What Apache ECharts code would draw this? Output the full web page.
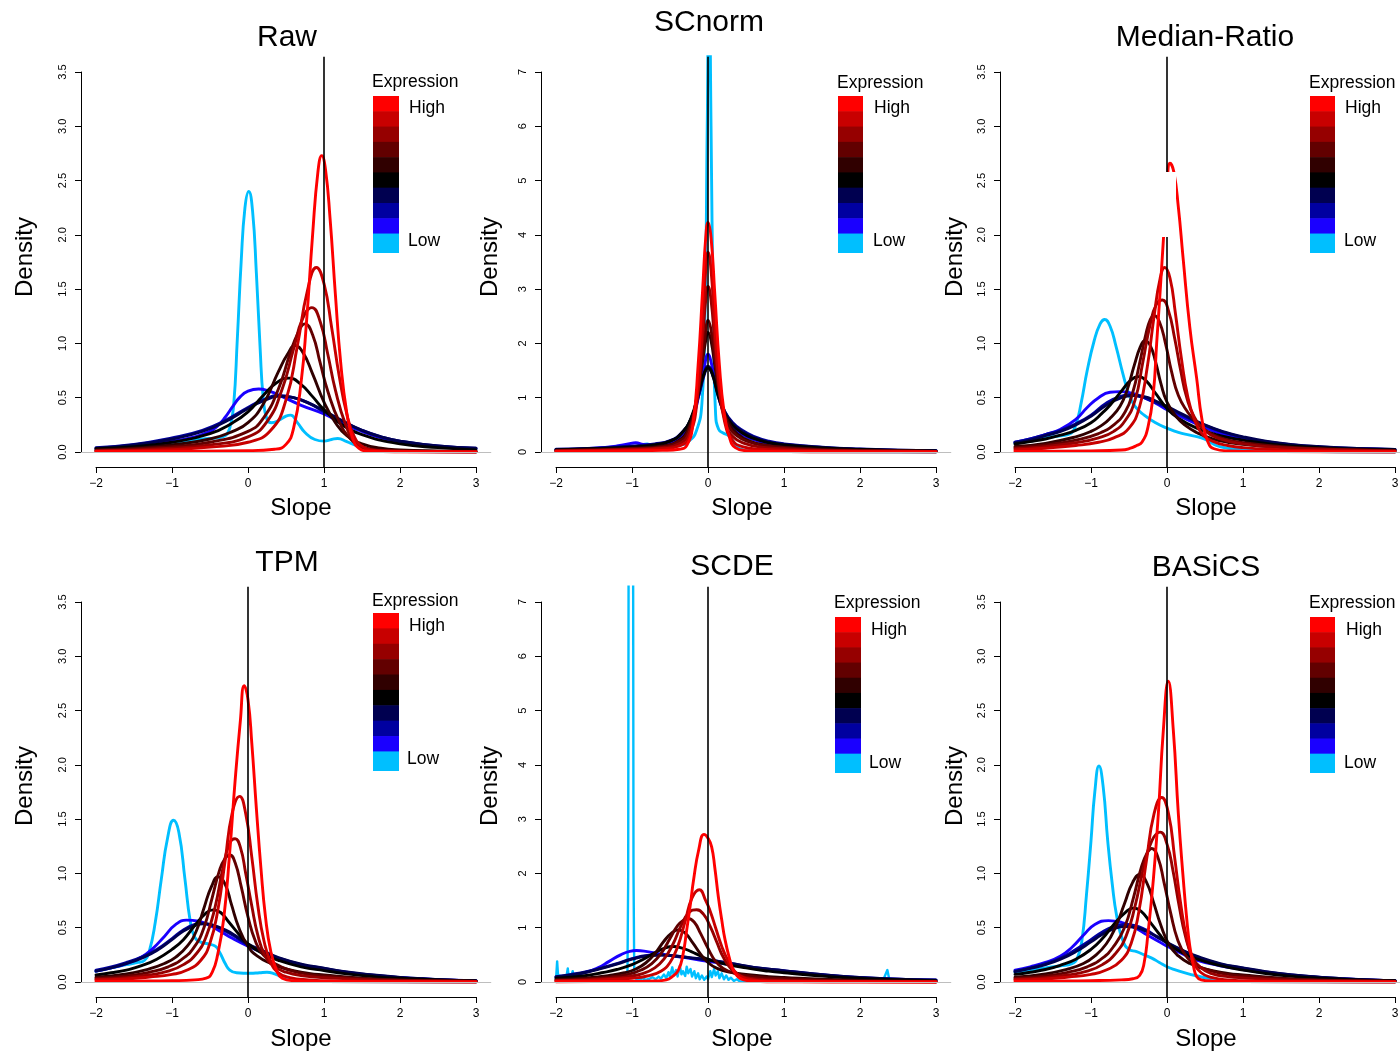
<!DOCTYPE html>
<html><head><meta charset="utf-8">
<script src="https://cdn.jsdelivr.net/npm/echarts@6/dist/echarts.min.js"></script>
<style>html,body{margin:0;padding:0;background:#fff}#c{width:1400px;height:1056px}</style>
</head><body><div id="c"></div>
<script>
// ---------- DATA ----------
// expression levels, low -> high
const levelNames = ['Low','2','3','4','5','6','7','8','9','High'];
const levelColors = ['#00BFFF','#1A00FF','#0000A0','#000050','#000000','#300000','#620000','#960000','#C80000','#FF0000'];
const xTicks = [-2,-1,0,1,2,3];
const yTicksHalf = [0,0.5,1,1.5,2,2.5,3,3.5];
const yTicksInt = [0,1,2,3,4,5,6,7];
const panelTitles = ['Raw','SCnorm','Median-Ratio','TPM','SCDE','BASiCS'];
const refLines = [1,0,0,0,0,0];

const rawCurves = [
 [[-2,0.02],[-1.5,0.045],[-1,0.085],[-0.6,0.12],[-0.4,0.13],[-0.3,0.15],[-0.24,0.22],[-0.19,0.42],[-0.14,1.05],[-0.09,1.75],[-0.04,2.25],[0.01,2.40],[0.06,2.22],[0.11,1.65],[0.16,0.95],[0.2,0.5],[0.25,0.3],[0.31,0.27],[0.4,0.29],[0.5,0.33],[0.56,0.34],[0.65,0.27],[0.75,0.18],[0.88,0.115],[1.0,0.10],[1.1,0.115],[1.18,0.125],[1.3,0.095],[1.42,0.06],[1.56,0.03],[1.8,0.01],[2.2,0.004],[3,0.0]],
 [[-2,0.03],[-1.5,0.06],[-1,0.1],[-0.7,0.14],[-0.5,0.19],[-0.4,0.24],[-0.3,0.32],[-0.2,0.42],[-0.1,0.51],[0.0,0.56],[0.14,0.58],[0.28,0.56],[0.45,0.51],[0.7,0.43],[1.0,0.35],[1.25,0.26],[1.5,0.19],[1.75,0.13],[2.0,0.09],[2.5,0.05],[3,0.03]],
 [[-2,0.04],[-1.5,0.07],[-1,0.13],[-0.6,0.2],[-0.3,0.29],[0.0,0.41],[0.2,0.48],[0.4,0.52],[0.6,0.5],[0.8,0.45],[1.0,0.37],[1.25,0.28],[1.5,0.2],[1.75,0.14],[2.0,0.1],[2.5,0.055],[3,0.035]],
 [[-2,0.035],[-1.5,0.065],[-1,0.12],[-0.6,0.19],[-0.3,0.28],[0.0,0.4],[0.2,0.47],[0.42,0.515],[0.6,0.5],[0.8,0.45],[1.0,0.38],[1.25,0.285],[1.5,0.2],[1.75,0.14],[2.0,0.1],[2.5,0.055],[3,0.035]],
 [[-2,0.03],[-1.5,0.05],[-1,0.09],[-0.5,0.17],[-0.2,0.27],[0.0,0.37],[0.2,0.52],[0.38,0.64],[0.54,0.68],[0.7,0.62],[0.85,0.51],[1.0,0.39],[1.2,0.27],[1.5,0.16],[2.0,0.075],[2.5,0.04],[3,0.02]],
 [[-2,0.02],[-1.5,0.035],[-1,0.065],[-0.5,0.12],[-0.2,0.19],[0.0,0.27],[0.2,0.44],[0.4,0.74],[0.52,0.9],[0.62,0.98],[0.72,0.92],[0.85,0.72],[1.0,0.46],[1.15,0.27],[1.3,0.15],[1.5,0.075],[1.75,0.035],[2,0.02],[2.5,0.01],[3,0.005]],
 [[-2,0.015],[-1,0.05],[-0.5,0.09],[0.0,0.19],[0.2,0.31],[0.4,0.58],[0.55,0.9],[0.66,1.1],[0.75,1.18],[0.85,1.08],[0.95,0.82],[1.05,0.56],[1.2,0.28],[1.35,0.12],[1.5,0.05],[1.7,0.02],[2,0.01],[3,0.003]],
 [[-2,0.01],[-1,0.035],[-0.5,0.065],[0.0,0.14],[0.25,0.28],[0.45,0.58],[0.6,0.95],[0.72,1.23],[0.84,1.33],[0.95,1.2],[1.05,0.9],[1.15,0.57],[1.28,0.26],[1.4,0.1],[1.55,0.03],[1.8,0.01],[3,0.002]],
 [[-2,0.008],[-1,0.022],[-0.5,0.045],[0.0,0.09],[0.3,0.2],[0.5,0.48],[0.65,0.98],[0.78,1.48],[0.9,1.70],[1.0,1.55],[1.1,1.15],[1.2,0.7],[1.3,0.35],[1.4,0.14],[1.52,0.045],[1.7,0.012],[2,0.004],[3,0.001]],
 [[-2,0.004],[-1,0.007],[0.0,0.012],[0.35,0.025],[0.5,0.07],[0.6,0.22],[0.7,0.65],[0.77,1.2],[0.85,2.0],[0.92,2.58],[0.97,2.73],[1.02,2.6],[1.08,2.15],[1.15,1.45],[1.22,0.82],[1.3,0.36],[1.38,0.12],[1.46,0.035],[1.6,0.008],[2,0.002],[3,0.0]]
];

const scnormCurves = [
 [[-2,0.02],[-1.5,0.04],[-1,0.08],[-0.8,0.15],[-0.7,0.1],[-0.4,0.12],[-0.25,0.2],[-0.15,0.4],[-0.08,0.9],[-0.04,2.5],[-0.01,6],[0.015,9],[0.04,6],[0.07,2.5],[0.1,0.7],[0.14,0.42],[0.2,0.35],[0.27,0.3],[0.33,0.2],[0.38,0.1],[0.47,0.04],[0.7,0.02],[1,0.01],[3,0]],
 [[-2,0.04],[-1.5,0.07],[-1.2,0.11],[-1.05,0.15],[-0.95,0.17],[-0.85,0.14],[-0.7,0.13],[-0.5,0.17],[-0.35,0.28],[-0.22,0.55],[-0.12,1.05],[-0.05,1.55],[0.0,1.8],[0.05,1.6],[0.12,1.12],[0.2,0.75],[0.3,0.5],[0.45,0.32],[0.6,0.23],[0.8,0.16],[1.0,0.12],[1.5,0.07],[2,0.045],[2.5,0.03],[3,0.02]],
 [[-2,0.05],[-1.5,0.07],[-1,0.11],[-0.7,0.15],[-0.5,0.21],[-0.35,0.35],[-0.22,0.62],[-0.12,1.05],[-0.05,1.42],[0.0,1.55],[0.06,1.42],[0.13,1.08],[0.22,0.75],[0.32,0.55],[0.45,0.4],[0.6,0.29],[0.8,0.2],[1.0,0.15],[1.5,0.09],[2,0.055],[2.5,0.035],[3,0.025]],
 [[-2,0.045],[-1.5,0.065],[-1,0.1],[-0.7,0.14],[-0.5,0.2],[-0.35,0.34],[-0.22,0.62],[-0.12,1.08],[-0.05,1.45],[0.0,1.58],[0.06,1.45],[0.13,1.1],[0.22,0.74],[0.32,0.53],[0.45,0.38],[0.6,0.27],[0.8,0.18],[1.0,0.14],[1.5,0.085],[2,0.05],[2.5,0.033],[3,0.022]],
 [[-2,0.04],[-1.5,0.06],[-1,0.09],[-0.7,0.13],[-0.5,0.2],[-0.35,0.34],[-0.22,0.64],[-0.12,1.12],[-0.05,1.45],[0.0,1.55],[0.06,1.42],[0.13,1.05],[0.22,0.7],[0.32,0.5],[0.45,0.35],[0.6,0.25],[0.8,0.17],[1.0,0.13],[1.5,0.075],[2,0.045],[2.5,0.03],[3,0.02]],
 [[-2,0.03],[-1.5,0.045],[-1,0.07],[-0.6,0.11],[-0.4,0.2],[-0.27,0.4],[-0.16,0.9],[-0.08,1.6],[-0.03,2.05],[0.0,2.2],[0.04,2.05],[0.1,1.5],[0.18,0.9],[0.28,0.52],[0.4,0.32],[0.55,0.2],[0.75,0.13],[1.0,0.09],[1.5,0.05],[2,0.03],[3,0.012]],
 [[-2,0.025],[-1.5,0.04],[-1,0.06],[-0.6,0.1],[-0.4,0.18],[-0.26,0.38],[-0.15,0.95],[-0.07,1.75],[-0.03,2.25],[0.0,2.43],[0.04,2.25],[0.1,1.6],[0.17,0.95],[0.26,0.52],[0.38,0.3],[0.55,0.18],[0.75,0.12],[1.0,0.08],[1.5,0.04],[2,0.025],[3,0.01]],
 [[-2,0.02],[-1.5,0.03],[-1,0.05],[-0.6,0.08],[-0.38,0.15],[-0.25,0.35],[-0.15,1.0],[-0.07,2.1],[-0.03,2.8],[0.0,3.05],[0.04,2.8],[0.09,2.0],[0.15,1.15],[0.23,0.55],[0.33,0.28],[0.5,0.15],[0.7,0.09],[1.0,0.06],[1.5,0.03],[2,0.02],[3,0.008]],
 [[-2,0.015],[-1.5,0.025],[-1,0.04],[-0.6,0.06],[-0.36,0.12],[-0.24,0.3],[-0.14,1.0],[-0.07,2.4],[-0.03,3.35],[0.0,3.68],[0.04,3.35],[0.09,2.3],[0.15,1.2],[0.22,0.55],[0.32,0.22],[0.45,0.1],[0.7,0.05],[1.0,0.035],[1.5,0.02],[2,0.012],[3,0.005]],
 [[-2,0.01],[-1.5,0.015],[-1,0.02],[-0.6,0.03],[-0.38,0.05],[-0.28,0.12],[-0.2,0.5],[-0.13,1.6],[-0.07,3.0],[-0.03,3.95],[0.0,4.23],[0.04,3.95],[0.09,2.9],[0.15,1.6],[0.21,0.75],[0.28,0.28],[0.36,0.08],[0.5,0.025],[0.8,0.012],[1.5,0.005],[3,0.002]]
];

const medianRatioCurves = [
 [[-2,0.08],[-1.8,0.1],[-1.6,0.13],[-1.4,0.15],[-1.27,0.17],[-1.2,0.25],[-1.13,0.45],[-1.05,0.75],[-0.96,1.02],[-0.88,1.18],[-0.82,1.22],[-0.75,1.16],[-0.67,0.97],[-0.58,0.72],[-0.5,0.53],[-0.42,0.42],[-0.3,0.34],[-0.15,0.27],[0.0,0.22],[0.15,0.18],[0.3,0.155],[0.45,0.13],[0.55,0.1],[0.65,0.06],[0.8,0.035],[1.0,0.02],[1.5,0.008],[3,0.0]],
 [[-2,0.09],[-1.8,0.12],[-1.6,0.16],[-1.4,0.21],[-1.2,0.3],[-1.05,0.41],[-0.9,0.5],[-0.75,0.55],[-0.62,0.556],[-0.45,0.54],[-0.3,0.5],[-0.15,0.45],[0.0,0.39],[0.2,0.32],[0.48,0.23],[0.75,0.16],[1.0,0.12],[1.3,0.085],[1.66,0.06],[2.0,0.045],[2.5,0.03],[3,0.022]],
 [[-2,0.09],[-1.8,0.12],[-1.6,0.16],[-1.4,0.2],[-1.2,0.26],[-1.0,0.34],[-0.8,0.45],[-0.6,0.515],[-0.5,0.525],[-0.35,0.51],[-0.2,0.47],[0.0,0.41],[0.2,0.34],[0.48,0.25],[0.75,0.18],[1.0,0.135],[1.3,0.095],[1.66,0.065],[2.0,0.048],[2.5,0.032],[3,0.024]],
 [[-2,0.085],[-1.8,0.11],[-1.6,0.15],[-1.4,0.19],[-1.2,0.25],[-1.0,0.33],[-0.8,0.43],[-0.6,0.5],[-0.45,0.52],[-0.3,0.51],[-0.15,0.47],[0.0,0.42],[0.2,0.35],[0.48,0.255],[0.75,0.185],[1.0,0.14],[1.3,0.1],[1.66,0.068],[2.0,0.05],[2.5,0.033],[3,0.024]],
 [[-2,0.074],[-1.8,0.095],[-1.6,0.12],[-1.4,0.155],[-1.2,0.2],[-1.0,0.27],[-0.85,0.36],[-0.75,0.43],[-0.6,0.56],[-0.48,0.66],[-0.38,0.694],[-0.28,0.66],[-0.14,0.53],[0.0,0.4],[0.15,0.31],[0.39,0.22],[0.7,0.15],[1.0,0.11],[1.4,0.07],[2.0,0.04],[2.5,0.026],[3,0.018]],
 [[-2,0.05],[-1.6,0.08],[-1.2,0.14],[-1.0,0.19],[-0.85,0.25],[-0.75,0.31],[-0.62,0.42],[-0.53,0.56],[-0.43,0.8],[-0.35,0.97],[-0.29,1.026],[-0.22,0.98],[-0.15,0.83],[-0.08,0.63],[0.0,0.46],[0.13,0.32],[0.25,0.24],[0.39,0.18],[0.6,0.12],[0.8,0.09],[1.0,0.07],[1.44,0.045],[2.0,0.028],[2.5,0.018],[3,0.012]],
 [[-2,0.04],[-1.6,0.065],[-1.2,0.11],[-0.9,0.17],[-0.7,0.25],[-0.55,0.37],[-0.45,0.55],[-0.36,0.82],[-0.28,1.08],[-0.22,1.22],[-0.17,1.256],[-0.1,1.2],[-0.02,1.0],[0.06,0.74],[0.15,0.52],[0.26,0.38],[0.4,0.26],[0.55,0.18],[0.75,0.12],[1.0,0.085],[1.5,0.05],[2,0.03],[3,0.012]],
 [[-2,0.03],[-1.6,0.05],[-1.2,0.085],[-0.9,0.13],[-0.7,0.19],[-0.55,0.29],[-0.42,0.48],[-0.32,0.82],[-0.22,1.18],[-0.14,1.36],[-0.06,1.40],[0.02,1.3],[0.1,1.05],[0.18,0.75],[0.26,0.5],[0.36,0.32],[0.5,0.2],[0.7,0.12],[1.0,0.075],[1.5,0.04],[2,0.025],[3,0.01]],
 [[-2,0.02],[-1.6,0.035],[-1.2,0.06],[-0.9,0.09],[-0.7,0.13],[-0.5,0.22],[-0.36,0.42],[-0.26,0.78],[-0.17,1.25],[-0.09,1.6],[-0.03,1.70],[0.04,1.6],[0.11,1.28],[0.19,0.86],[0.27,0.52],[0.36,0.3],[0.46,0.17],[0.6,0.1],[0.8,0.06],[1.0,0.04],[1.5,0.02],[2,0.012],[3,0.005]],
 [[-2,0.005],[-1,0.01],[-0.6,0.018],[-0.48,0.035],[-0.4,0.06],[-0.33,0.09],[-0.25,0.23],[-0.18,0.54],[-0.136,1.0],[-0.092,1.46],[-0.048,1.95],[0.0,2.45],[0.04,2.66],[0.09,2.58],[0.15,2.25],[0.21,1.8],[0.3,1.15],[0.39,0.68],[0.46,0.3],[0.54,0.09],[0.62,0.03],[0.8,0.01],[1.5,0.003],[3,0.0]]
];

const tpmCurves = [
 [[-2,0.1],[-1.8,0.13],[-1.6,0.16],[-1.45,0.18],[-1.36,0.2],[-1.3,0.28],[-1.22,0.55],[-1.14,0.95],[-1.06,1.32],[-0.98,1.49],[-0.91,1.38],[-0.83,0.95],[-0.76,0.56],[-0.7,0.41],[-0.63,0.37],[-0.52,0.35],[-0.43,0.33],[-0.37,0.27],[-0.3,0.17],[-0.24,0.11],[-0.15,0.085],[0.03,0.08],[0.15,0.085],[0.25,0.09],[0.35,0.075],[0.45,0.045],[0.55,0.025],[0.7,0.012],[1.0,0.005],[3,0.0]],
 [[-2,0.1],[-1.8,0.13],[-1.6,0.17],[-1.4,0.23],[-1.25,0.31],[-1.1,0.42],[-0.95,0.53],[-0.81,0.57],[-0.65,0.56],[-0.5,0.52],[-0.35,0.46],[-0.2,0.4],[0.0,0.33],[0.2,0.27],[0.4,0.21],[0.7,0.155],[1.0,0.115],[1.3,0.085],[1.65,0.058],[2.0,0.04],[2.3,0.028],[2.7,0.016],[3,0.01]],
 [[-2,0.11],[-1.8,0.14],[-1.6,0.18],[-1.4,0.23],[-1.2,0.3],[-1.0,0.4],[-0.85,0.48],[-0.7,0.53],[-0.6,0.54],[-0.45,0.52],[-0.3,0.47],[-0.15,0.41],[0.0,0.34],[0.2,0.28],[0.4,0.22],[0.7,0.16],[1.0,0.125],[1.3,0.09],[1.65,0.062],[2.0,0.042],[2.3,0.03],[2.7,0.017],[3,0.011]],
 [[-2,0.1],[-1.8,0.13],[-1.6,0.17],[-1.4,0.22],[-1.2,0.29],[-1.0,0.39],[-0.85,0.47],[-0.7,0.52],[-0.58,0.535],[-0.45,0.52],[-0.3,0.48],[-0.15,0.42],[0.0,0.35],[0.2,0.285],[0.4,0.225],[0.7,0.165],[1.0,0.127],[1.3,0.092],[1.65,0.064],[2.0,0.043],[2.3,0.03],[2.7,0.017],[3,0.011]],
 [[-2,0.065],[-1.8,0.085],[-1.6,0.11],[-1.4,0.15],[-1.2,0.21],[-1.0,0.3],[-0.85,0.39],[-0.7,0.52],[-0.56,0.63],[-0.46,0.664],[-0.36,0.64],[-0.25,0.55],[-0.12,0.44],[0.0,0.35],[0.2,0.26],[0.4,0.2],[0.7,0.14],[1.0,0.105],[1.3,0.075],[1.65,0.05],[2.0,0.034],[2.5,0.02],[3,0.01]],
 [[-2,0.045],[-1.6,0.075],[-1.3,0.12],[-1.1,0.17],[-0.95,0.23],[-0.8,0.33],[-0.68,0.47],[-0.58,0.68],[-0.48,0.88],[-0.39,0.97],[-0.3,0.9],[-0.22,0.72],[-0.12,0.5],[0.0,0.33],[0.12,0.24],[0.3,0.17],[0.5,0.12],[0.8,0.08],[1.0,0.065],[1.5,0.035],[2.0,0.02],[3,0.007]],
 [[-2,0.035],[-1.6,0.055],[-1.3,0.09],[-1.05,0.14],[-0.85,0.22],[-0.7,0.33],[-0.58,0.5],[-0.47,0.78],[-0.37,1.04],[-0.3,1.14],[-0.24,1.17],[-0.17,1.1],[-0.09,0.88],[0.0,0.6],[0.1,0.37],[0.2,0.25],[0.35,0.17],[0.55,0.11],[0.8,0.07],[1.0,0.055],[1.5,0.03],[2,0.017],[3,0.006]],
 [[-2,0.025],[-1.6,0.04],[-1.3,0.065],[-1.05,0.1],[-0.85,0.16],[-0.68,0.26],[-0.55,0.42],[-0.43,0.7],[-0.33,1.05],[-0.24,1.28],[-0.17,1.32],[-0.1,1.24],[-0.03,1.0],[0.05,0.7],[0.13,0.43],[0.22,0.25],[0.33,0.15],[0.5,0.09],[0.75,0.055],[1.0,0.04],[1.5,0.022],[2,0.012],[3,0.004]],
 [[-2,0.018],[-1.6,0.028],[-1.3,0.045],[-1.0,0.07],[-0.8,0.11],[-0.62,0.2],[-0.5,0.36],[-0.4,0.65],[-0.3,1.12],[-0.21,1.55],[-0.11,1.71],[-0.03,1.55],[0.05,1.15],[0.13,0.7],[0.21,0.38],[0.3,0.18],[0.4,0.085],[0.55,0.04],[0.8,0.02],[1.2,0.01],[2,0.004],[3,0.001]],
 [[-2,0.006],[-1.5,0.008],[-1,0.012],[-0.7,0.02],[-0.55,0.035],[-0.47,0.09],[-0.4,0.25],[-0.32,0.58],[-0.24,1.2],[-0.17,1.85],[-0.1,2.41],[-0.05,2.73],[0.0,2.6],[0.05,2.2],[0.11,1.6],[0.17,1.05],[0.23,0.6],[0.3,0.28],[0.38,0.1],[0.45,0.035],[0.6,0.012],[1,0.004],[3,0.0]]
];

const scdeCurves = [
 [[-2.0,0.04],[-1.985,0.38],[-1.97,0.06],[-1.95,0.12],[-1.93,0.05],[-1.9,0.09],[-1.87,0.04],[-1.845,0.25],[-1.83,0.06],[-1.8,0.1],[-1.78,0.2],[-1.76,0.05],[-1.72,0.09],[-1.69,0.04],[-1.66,0.12],[-1.62,0.05],[-1.58,0.07],[-1.53,0.03],[-1.49,0.08],[-1.44,0.04],[-1.38,0.06],[-1.33,0.03],[-1.27,0.05],[-1.22,0.03],[-1.17,0.06],[-1.12,0.04],[-1.08,0.08],[-1.06,0.12],[-1.05,2],[-1.045,7.5],[-1.015,9.5],[-0.985,7.5],[-0.98,2],[-0.97,0.12],[-0.95,0.06],[-0.91,0.04],[-0.86,0.07],[-0.82,0.04],[-0.77,0.06],[-0.73,0.09],[-0.69,0.05],[-0.65,0.1],[-0.62,0.06],[-0.58,0.14],[-0.55,0.07],[-0.52,0.18],[-0.5,0.1],[-0.47,0.27],[-0.45,0.12],[-0.42,0.22],[-0.4,0.1],[-0.37,0.3],[-0.35,0.14],[-0.33,0.2],[-0.3,0.11],[-0.28,0.28],[-0.26,0.16],[-0.23,0.24],[-0.21,0.1],[-0.18,0.2],[-0.16,0.07],[-0.13,0.16],[-0.11,0.05],[-0.08,0.12],[-0.05,0.04],[-0.02,0.1],[0.0,0.05],[0.03,0.2],[0.05,0.09],[0.08,0.24],[0.1,0.12],[0.13,0.2],[0.15,0.07],[0.18,0.16],[0.21,0.05],[0.24,0.12],[0.27,0.04],[0.3,0.08],[0.34,0.02],[0.38,0.05],[0.42,0.01],[0.5,0.01],[0.7,0.005],[1.0,0.005],[1.2,0.01],[1.4,0.02],[1.45,0.05],[1.5,0.01],[1.6,0.02],[1.62,0.06],[1.65,0.01],[1.8,0.02],[1.85,0.05],[1.9,0.01],[2.0,0.02],[2.1,0.01],[2.3,0.02],[2.36,0.22],[2.39,0.02],[2.5,0.01],[3.0,0.0]],
 [[-2,0.08],[-1.8,0.12],[-1.6,0.18],[-1.45,0.26],[-1.3,0.38],[-1.15,0.5],[-1.03,0.565],[-0.94,0.58],[-0.8,0.56],[-0.65,0.52],[-0.3,0.45],[0.0,0.38],[0.3,0.32],[0.6,0.26],[1.0,0.2],[1.4,0.14],[1.87,0.09],[2.4,0.055],[3,0.035]],
 [[-2,0.1],[-1.8,0.14],[-1.6,0.19],[-1.4,0.26],[-1.2,0.34],[-1.0,0.43],[-0.8,0.49],[-0.63,0.5],[-0.45,0.48],[-0.25,0.45],[0.0,0.41],[0.3,0.34],[0.6,0.27],[1.0,0.21],[1.4,0.15],[1.87,0.095],[2.4,0.058],[3,0.036]],
 [[-2,0.095],[-1.8,0.13],[-1.6,0.18],[-1.4,0.25],[-1.2,0.33],[-1.0,0.42],[-0.8,0.48],[-0.6,0.495],[-0.42,0.48],[-0.25,0.45],[0.0,0.405],[0.3,0.34],[0.6,0.27],[1.0,0.205],[1.4,0.148],[1.87,0.093],[2.4,0.056],[3,0.035]],
 [[-2,0.07],[-1.8,0.09],[-1.6,0.12],[-1.4,0.17],[-1.2,0.23],[-1.0,0.32],[-0.85,0.42],[-0.7,0.54],[-0.56,0.63],[-0.456,0.653],[-0.35,0.63],[-0.22,0.56],[-0.1,0.48],[0.0,0.42],[0.2,0.34],[0.5,0.26],[0.8,0.2],[1.0,0.17],[1.4,0.12],[1.87,0.075],[2.4,0.045],[3,0.025]],
 [[-2,0.045],[-1.6,0.075],[-1.3,0.12],[-1.1,0.17],[-0.95,0.24],[-0.82,0.35],[-0.7,0.52],[-0.58,0.75],[-0.48,0.9],[-0.39,0.96],[-0.3,0.9],[-0.2,0.72],[-0.1,0.52],[0.0,0.36],[0.12,0.25],[0.3,0.18],[0.5,0.14],[0.8,0.1],[1.0,0.085],[1.5,0.05],[2.0,0.03],[3,0.01]],
 [[-2,0.035],[-1.6,0.055],[-1.3,0.09],[-1.05,0.14],[-0.88,0.22],[-0.74,0.34],[-0.62,0.52],[-0.5,0.8],[-0.4,1.04],[-0.32,1.14],[-0.26,1.17],[-0.18,1.1],[-0.1,0.9],[0.0,0.62],[0.1,0.38],[0.2,0.25],[0.35,0.16],[0.55,0.11],[0.8,0.075],[1.0,0.06],[1.5,0.035],[2,0.02],[3,0.007]],
 [[-2,0.025],[-1.6,0.04],[-1.3,0.065],[-1.05,0.1],[-0.85,0.16],[-0.7,0.26],[-0.58,0.42],[-0.46,0.7],[-0.36,1.02],[-0.25,1.28],[-0.15,1.33],[-0.06,1.25],[0.03,1.02],[0.12,0.72],[0.2,0.46],[0.3,0.25],[0.42,0.12],[0.6,0.06],[0.8,0.04],[1.0,0.03],[1.5,0.018],[2,0.01],[3,0.004]],
 [[-2,0.018],[-1.6,0.028],[-1.3,0.045],[-1.0,0.07],[-0.8,0.11],[-0.62,0.2],[-0.5,0.36],[-0.4,0.65],[-0.3,1.12],[-0.21,1.55],[-0.114,1.70],[-0.03,1.5],[0.03,1.3],[0.1,1.0],[0.18,0.66],[0.26,0.4],[0.35,0.2],[0.45,0.09],[0.6,0.04],[0.8,0.02],[1.2,0.01],[2,0.004],[3,0.001]],
 [[-2,0.005],[-1.5,0.007],[-1,0.01],[-0.7,0.018],[-0.55,0.04],[-0.47,0.1],[-0.39,0.22],[-0.33,0.5],[-0.28,0.96],[-0.23,1.45],[-0.19,1.88],[-0.12,2.45],[-0.053,2.72],[0.0,2.65],[0.048,2.49],[0.09,2.1],[0.136,1.57],[0.18,1.15],[0.224,0.78],[0.28,0.45],[0.333,0.22],[0.4,0.09],[0.47,0.04],[0.6,0.015],[1,0.005],[3,0.0]]
];

const basicsCurves = [
 [[-2,0.09],[-1.8,0.11],[-1.6,0.13],[-1.4,0.15],[-1.25,0.17],[-1.18,0.22],[-1.12,0.38],[-1.06,0.8],[-1.0,1.3],[-0.95,1.75],[-0.895,1.99],[-0.84,1.8],[-0.78,1.3],[-0.72,0.9],[-0.66,0.6],[-0.58,0.38],[-0.5,0.3],[-0.4,0.28],[-0.3,0.25],[-0.2,0.22],[-0.1,0.18],[0.0,0.14],[0.12,0.11],[0.26,0.08],[0.4,0.055],[0.56,0.03],[0.74,0.008],[1.0,0.003],[3,0.0]],
 [[-2,0.11],[-1.8,0.14],[-1.6,0.18],[-1.4,0.24],[-1.25,0.32],[-1.1,0.43],[-0.95,0.53],[-0.77,0.565],[-0.6,0.55],[-0.45,0.51],[-0.3,0.45],[-0.15,0.39],[0.0,0.33],[0.2,0.26],[0.4,0.2],[0.7,0.15],[1.0,0.115],[1.3,0.085],[1.65,0.06],[2.0,0.04],[2.3,0.028],[2.7,0.017],[3,0.012]],
 [[-2,0.1],[-1.8,0.13],[-1.6,0.17],[-1.4,0.22],[-1.2,0.3],[-1.0,0.39],[-0.85,0.46],[-0.7,0.51],[-0.55,0.53],[-0.42,0.52],[-0.28,0.48],[-0.14,0.42],[0.0,0.36],[0.2,0.29],[0.4,0.23],[0.7,0.165],[1.0,0.128],[1.3,0.093],[1.65,0.064],[2.0,0.044],[2.3,0.031],[2.7,0.018],[3,0.012]],
 [[-2,0.095],[-1.8,0.125],[-1.6,0.16],[-1.4,0.21],[-1.2,0.28],[-1.0,0.37],[-0.85,0.44],[-0.7,0.49],[-0.55,0.51],[-0.4,0.5],[-0.28,0.47],[-0.14,0.42],[0.0,0.365],[0.2,0.295],[0.4,0.235],[0.7,0.17],[1.0,0.13],[1.3,0.095],[1.65,0.065],[2.0,0.045],[2.3,0.031],[2.7,0.018],[3,0.012]],
 [[-2,0.07],[-1.8,0.09],[-1.6,0.115],[-1.4,0.155],[-1.2,0.21],[-1.0,0.3],[-0.85,0.4],[-0.7,0.53],[-0.55,0.64],[-0.443,0.68],[-0.34,0.65],[-0.22,0.55],[-0.1,0.44],[0.0,0.36],[0.2,0.27],[0.4,0.21],[0.7,0.15],[1.0,0.11],[1.3,0.078],[1.65,0.052],[2.0,0.035],[2.5,0.02],[3,0.011]],
 [[-2,0.045],[-1.6,0.075],[-1.3,0.12],[-1.1,0.17],[-0.95,0.24],[-0.8,0.35],[-0.68,0.5],[-0.56,0.72],[-0.45,0.92],[-0.355,0.99],[-0.27,0.92],[-0.18,0.74],[-0.08,0.52],[0.03,0.34],[0.15,0.24],[0.3,0.17],[0.5,0.12],[0.8,0.08],[1.0,0.065],[1.5,0.035],[2.0,0.02],[3,0.007]],
 [[-2,0.035],[-1.6,0.055],[-1.3,0.09],[-1.05,0.14],[-0.85,0.22],[-0.7,0.33],[-0.56,0.5],[-0.44,0.78],[-0.34,1.05],[-0.26,1.19],[-0.2,1.23],[-0.12,1.15],[-0.04,0.92],[0.05,0.63],[0.14,0.39],[0.24,0.25],[0.38,0.16],[0.55,0.11],[0.8,0.07],[1.0,0.055],[1.5,0.03],[2,0.017],[3,0.006]],
 [[-2,0.025],[-1.6,0.04],[-1.3,0.065],[-1.05,0.1],[-0.85,0.16],[-0.68,0.26],[-0.54,0.42],[-0.42,0.7],[-0.31,1.05],[-0.2,1.3],[-0.09,1.38],[0.0,1.27],[0.08,1.02],[0.16,0.7],[0.24,0.43],[0.33,0.24],[0.45,0.13],[0.6,0.075],[0.8,0.05],[1.0,0.038],[1.5,0.02],[2,0.012],[3,0.004]],
 [[-2,0.018],[-1.6,0.028],[-1.3,0.045],[-1.0,0.07],[-0.8,0.11],[-0.6,0.2],[-0.47,0.36],[-0.37,0.65],[-0.27,1.12],[-0.17,1.55],[-0.07,1.70],[0.02,1.55],[0.1,1.15],[0.18,0.72],[0.26,0.4],[0.35,0.19],[0.45,0.085],[0.6,0.04],[0.8,0.02],[1.2,0.01],[2,0.004],[3,0.001]],
 [[-2,0.006],[-1.5,0.008],[-1,0.012],[-0.6,0.02],[-0.45,0.03],[-0.36,0.06],[-0.3,0.18],[-0.25,0.45],[-0.18,0.94],[-0.114,1.55],[-0.048,2.32],[0.017,2.77],[0.083,2.32],[0.149,1.55],[0.215,0.94],[0.26,0.58],[0.3,0.33],[0.35,0.14],[0.39,0.05],[0.45,0.02],[0.6,0.008],[1,0.003],[3,0.0]]
];

const panelCurves = [rawCurves, scnormCurves, medianRatioCurves, tpmCurves, scdeCurves, basicsCurves];
const panelYTicks = [yTicksHalf, yTicksInt, yTicksHalf, yTicksHalf, yTicksInt, yTicksHalf];

// ---------- LAYOUT (pixels) ----------
const FONT = '"Liberation Sans", Arial, Helvetica, sans-serif';
const layout = [
  {L:96,  T:72,  title:[287,38],  dens:[25,257],  slope:[301,508],  leg:{ex:372,ey:82, bx:373,bw:26,by:96, bh:157, hx:409,hy:108, lx:408,ly:241}},
  {L:556, T:72,  title:[709,23],  dens:[490,257], slope:[742,508],  leg:{ex:837,ey:83, bx:838,bw:25,by:96, bh:157, hx:874,hy:108, lx:873,ly:241}},
  {L:1015,T:72,  title:[1205,38], dens:[955,257], slope:[1206,508], leg:{ex:1309,ey:83,bx:1310,bw:25,by:96, bh:157, hx:1345,hy:108,lx:1344,ly:241}},
  {L:96,  T:602, title:[287,563], dens:[25,786],  slope:[301,1039], leg:{ex:372,ey:601,bx:373,bw:26,by:613,bh:158, hx:409,hy:626, lx:407,ly:759}},
  {L:556, T:602, title:[732,567], dens:[490,786], slope:[742,1039], leg:{ex:834,ey:603,bx:835,bw:26,by:617,bh:156, hx:871,hy:630, lx:869,ly:763}},
  {L:1015,T:602, title:[1206,568],dens:[955,786], slope:[1206,1039],leg:{ex:1309,ey:603,bx:1310,bw:25,by:617,bh:156, hx:1346,hy:630,lx:1344,ly:763}}
];
const SIZE = 380, EXT = 0.04, PADPX = SIZE * EXT;

const grid = [], xAxis = [], yAxis = [], series = [], graphic = [];
const fmtX = v => (v < 0 ? '\u2212' + (-v) : String(v));

layout.forEach((p, i) => {
  const ticks = panelYTicks[i];
  const ymax = ticks[ticks.length - 1];
  const yint = ticks[1] - ticks[0];
  grid.push({left:p.L, top:p.T, width:SIZE, height:SIZE, containLabel:false, outerBoundsMode:'none'});
  grid.push({left:p.L - PADPX, top:p.T - PADPX, width:SIZE + 2*PADPX, height:SIZE + 2*PADPX, containLabel:false, outerBoundsMode:'none'});
  const ga = 2*i, gd = 2*i+1;
  xAxis.push({gridIndex:ga, type:'value', min:xTicks[0], max:xTicks[xTicks.length-1], interval:1, offset:15,
    axisLine:{show:true, onZero:false, lineStyle:{color:'#000', width:1}},
    axisTick:{show:true, length:6, lineStyle:{color:'#000', width:1}},
    axisLabel:{show:true, fontSize:12, fontFamily:FONT, color:'#000', margin:11, formatter:fmtX},
    splitLine:{show:false}});
  yAxis.push({gridIndex:ga, type:'value', min:0, max:ymax, interval:yint, offset:15,
    axisLine:{show:true, onZero:false, lineStyle:{color:'#000', width:1}},
    axisTick:{show:true, length:6, lineStyle:{color:'#000', width:1}},
    axisLabel:{show:true, rotate:90, fontSize:11, fontFamily:FONT, color:'#000', margin:13,
      formatter: v => (yint < 1 ? v.toFixed(1) : String(v))},
    splitLine:{show:false}});
  const r = xTicks[xTicks.length-1] - xTicks[0];
  xAxis.push({gridIndex:gd, type:'value', min:xTicks[0] - EXT*r, max:xTicks[xTicks.length-1] + EXT*r, show:false});
  yAxis.push({gridIndex:gd, type:'value', min:-EXT*ymax, max:ymax*(1+EXT), show:false});

  series.push({type:'line', xAxisIndex:gd, yAxisIndex:gd, data:[], silent:true, z:1,
    markLine:{symbol:'none', silent:true, animation:false, label:{show:false},
      data:[{yAxis:0, lineStyle:{color:'#BEBEBE', width:1, type:'solid'}}]}});
  panelCurves[i].forEach((curve, k) => {
    series.push({type:'line', name:panelTitles[i] + ' ' + levelNames[k], xAxisIndex:gd, yAxisIndex:gd,
      data:curve, smooth:(curve.length > 60 ? false : 0.5), showSymbol:false, symbol:'none',
      clip:true, silent:true, z:2,
      lineStyle:{color:levelColors[k], width:(curve.length > 60 ? 2.4 : 2.9), join:'round', cap:'round'}});
  });
  series.push({type:'line', xAxisIndex:gd, yAxisIndex:gd, data:[], silent:true, z:5,
    markLine:{symbol:'none', silent:true, animation:false, label:{show:false},
      data:[{xAxis:refLines[i], lineStyle:{color:'#000', width:1.6, type:'solid'}}]}});

  graphic.push({type:'text', z:100, style:{text:panelTitles[i], x:p.title[0], y:p.title[1], fontSize:30, fontFamily:FONT, fill:'#000', textAlign:'center', textVerticalAlign:'middle', verticalAlign:'middle'}});
  graphic.push({type:'text', z:100, style:{text:'Slope', x:p.slope[0], y:p.slope[1], fontSize:24, fontFamily:FONT, fill:'#000', textAlign:'center', textVerticalAlign:'middle', verticalAlign:'middle'}});
  graphic.push({type:'text', z:100, x:p.dens[0], y:p.dens[1], rotation:Math.PI/2, style:{text:'Density', x:0, y:0, fontSize:24, fontFamily:FONT, fill:'#000', textAlign:'center', textVerticalAlign:'middle', verticalAlign:'middle'}});
  const lg = p.leg;
  graphic.push({type:'text', z:100, style:{text:'Expression', x:lg.ex, y:lg.ey, fontSize:17.5, fontFamily:FONT, fill:'#000', textAlign:'left', textVerticalAlign:'middle', verticalAlign:'middle'}});
  const cyanH = lg.bh * 0.124;
  const bandH = (lg.bh - cyanH) / (levelColors.length - 1);
  for (let k = levelColors.length - 1, j = 0; k >= 0; k--, j++) {
    const y0 = lg.by + j * bandH;
    const h = k === 0 ? cyanH : bandH + 0.6;
    graphic.push({type:'rect', z:100, shape:{x:lg.bx, y:y0, width:lg.bw, height:h}, style:{fill:levelColors[k]}});
  }
  graphic.push({type:'text', z:100, style:{text:'High', x:lg.hx, y:lg.hy, fontSize:17.5, fontFamily:FONT, fill:'#000', textAlign:'left', textVerticalAlign:'middle', verticalAlign:'middle'}});
  graphic.push({type:'text', z:100, style:{text:'Low', x:lg.lx, y:lg.ly, fontSize:17.5, fontFamily:FONT, fill:'#000', textAlign:'left', textVerticalAlign:'middle', verticalAlign:'middle'}});
});
// white patch present in the Median-Ratio panel of the reference
graphic.push({type:'rect', z:100, shape:{x:1156, y:172, width:20, height:65}, style:{fill:'#FFFFFF'}});

const chart = echarts.init(document.getElementById('c'), null, {renderer:'canvas'});
chart.setOption({
  backgroundColor:'#FFFFFF', animation:false,
  grid, xAxis, yAxis, series, graphic
});
</script></body></html>
